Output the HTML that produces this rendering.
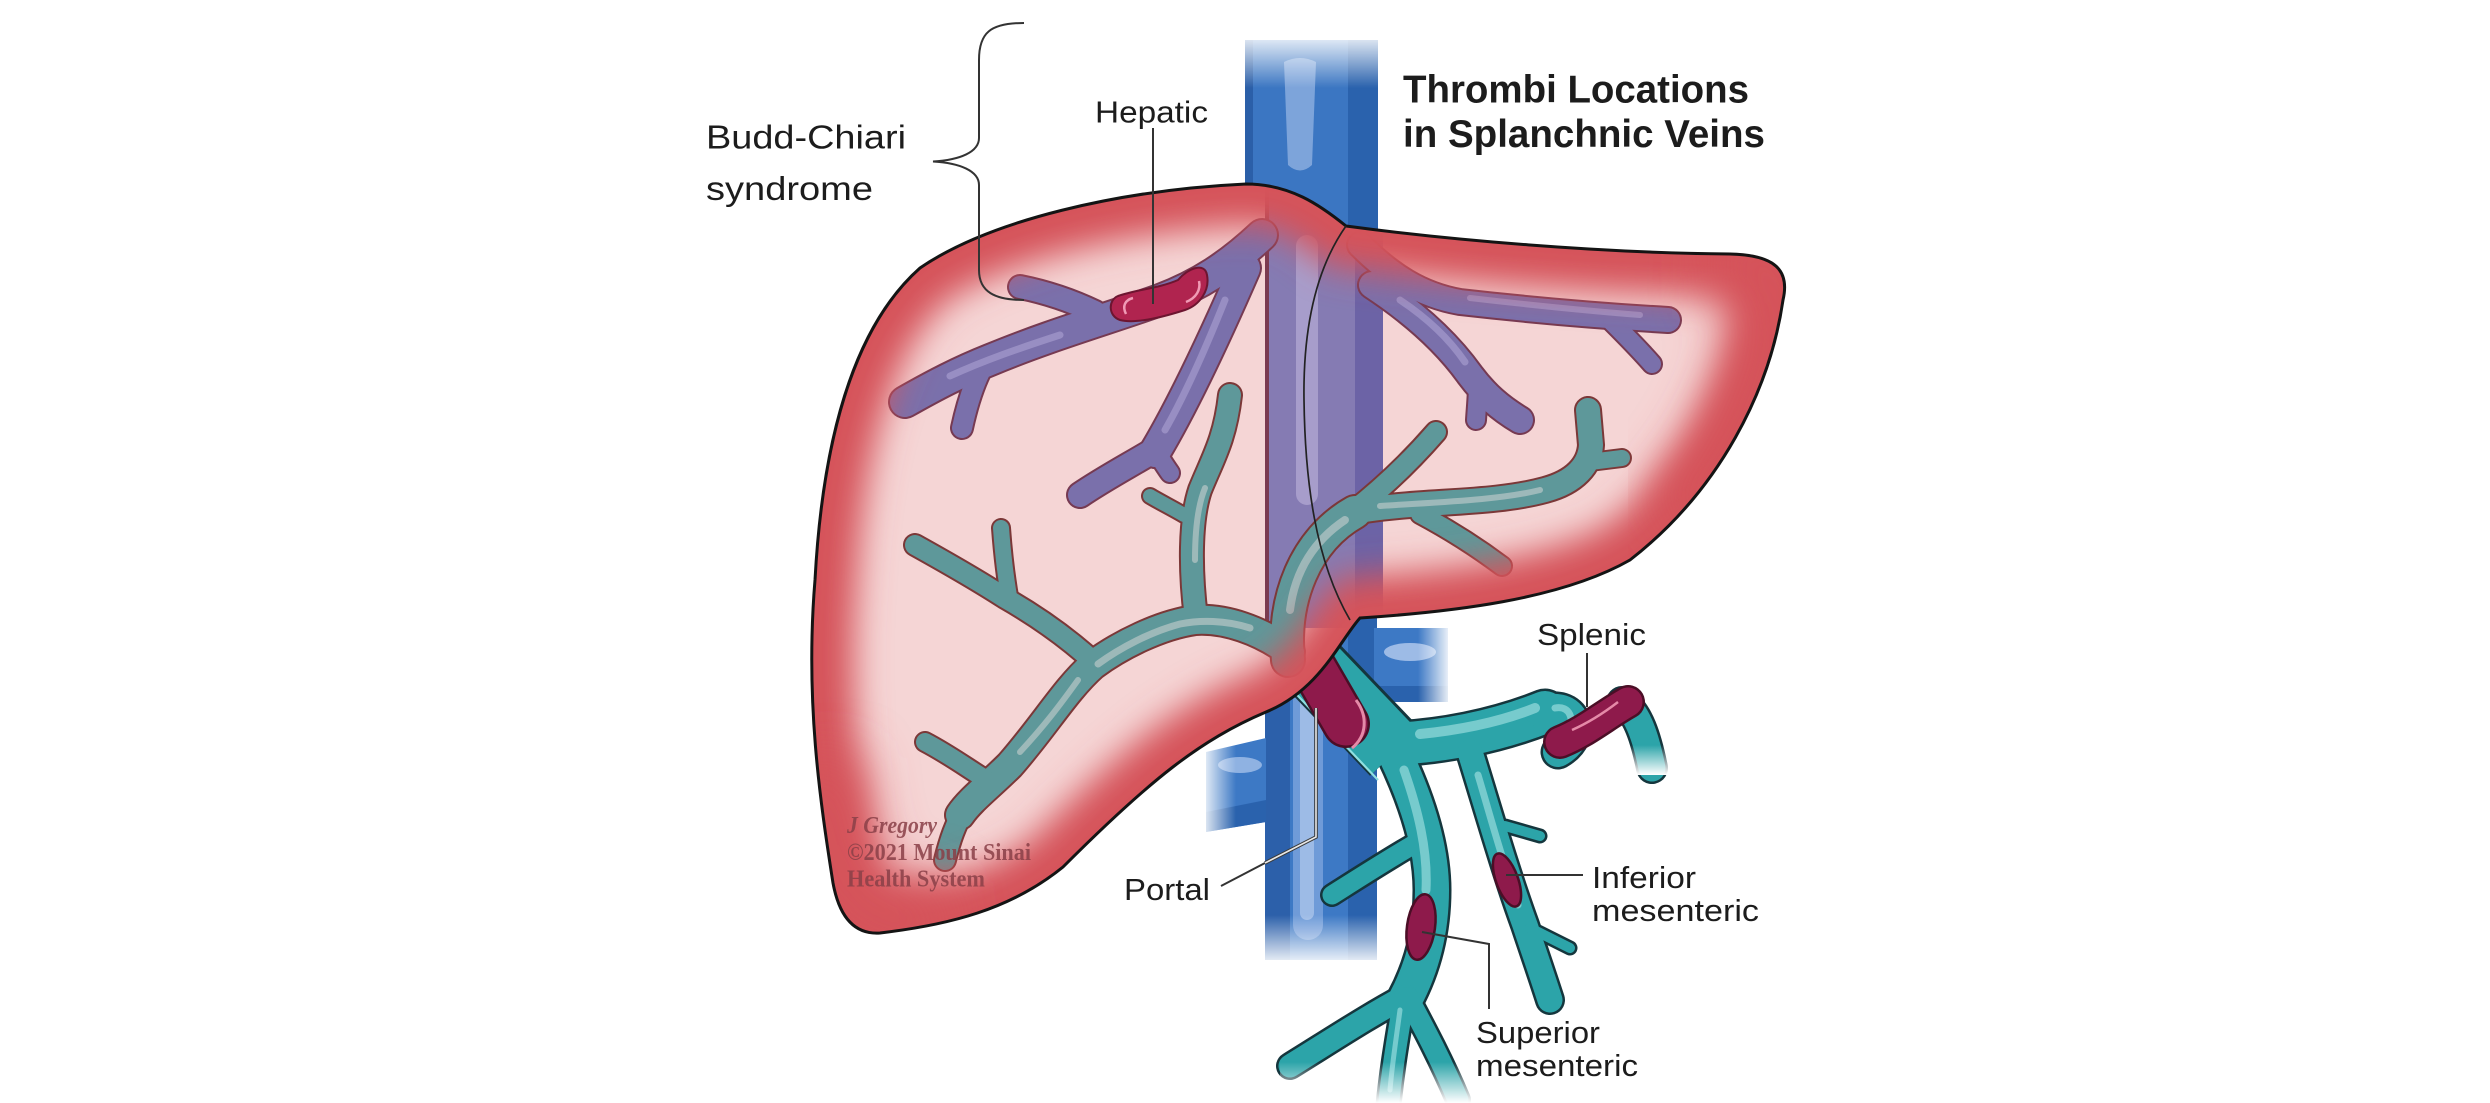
<!DOCTYPE html>
<html><head><meta charset="utf-8"><title>Thrombi Locations in Splanchnic Veins</title>
<style>
html,body{margin:0;padding:0;background:#fff}
svg{display:block}
text{font-family:"Liberation Sans",Arial,sans-serif;fill:#1c1c1c}
</style></head><body>
<svg xmlns="http://www.w3.org/2000/svg" width="2490" height="1103" viewBox="0 0 2490 1103">
<defs>
<path id="liver" d="M1246,184 C1290,184 1320,205 1346,226 C1450,240 1600,253 1730,254 C1775,255 1790,270 1783,300 C1770,390 1720,490 1630,560 C1560,600 1450,612 1360,618 C1340,640 1320,690 1266,712 C1200,740 1150,780 1063,867 C1010,910 948,925 880,933 C850,935 838,910 833,883 C820,800 805,700 815,580 C822,450 850,330 920,268 C990,220 1120,190 1246,184 Z"/>
<clipPath id="lc"><use href="#liver"/></clipPath>
<filter id="b18" x="-30%" y="-30%" width="160%" height="160%"><feGaussianBlur stdDeviation="17"/></filter>
<filter id="b26" x="-50%" y="-50%" width="200%" height="200%"><feGaussianBlur stdDeviation="26"/></filter>
<linearGradient id="fadeTop" x1="0" y1="0" x2="0" y2="1"><stop offset="0" stop-color="#fff" stop-opacity="1"/><stop offset="1" stop-color="#fff" stop-opacity="0"/></linearGradient>
<linearGradient id="fadeBot" x1="0" y1="0" x2="0" y2="1"><stop offset="0" stop-color="#fff" stop-opacity="0"/><stop offset="1" stop-color="#fff" stop-opacity="1"/></linearGradient>
<linearGradient id="fadeR" x1="0" y1="0" x2="1" y2="0"><stop offset="0" stop-color="#fff" stop-opacity="0"/><stop offset="1" stop-color="#fff" stop-opacity="1"/></linearGradient>
<linearGradient id="fadeL" x1="1" y1="0" x2="0" y2="0"><stop offset="0" stop-color="#fff" stop-opacity="0"/><stop offset="1" stop-color="#fff" stop-opacity="1"/></linearGradient>
</defs>

<rect width="2490" height="1103" fill="#fff"/>

<!-- Vena cava above liver -->
<rect x="1245" y="40" width="133" height="200" fill="#3b76c2"/>
<rect x="1245" y="40" width="8" height="200" fill="#2b5fa8"/>
<rect x="1348" y="40" width="30" height="200" fill="#2a62ad"/>
<path d="M1284,62 Q1300,54 1316,62 L1312,165 Q1300,176 1288,165 Z" fill="#9ab8e4" opacity=".7"/>
<rect x="1235" y="30" width="155" height="58" fill="url(#fadeTop)"/>

<!-- Vena cava below liver -->
<rect x="1265" y="590" width="112" height="370" fill="#3d79c5"/>
<rect x="1265" y="590" width="25" height="370" fill="#2c60aa"/>
<rect x="1293" y="600" width="30" height="340" rx="15" fill="#6f9bd8"/>
<rect x="1300" y="620" width="14" height="300" rx="7" fill="#9dbbe6"/>
<rect x="1348" y="590" width="29" height="370" fill="#2a62ad"/>
<!-- renal stubs -->
<path d="M1374,628 L1448,628 L1448,702 L1374,702 Z" fill="#3d79c5"/>
<path d="M1376,686 L1448,686 L1448,702 L1376,702 Z" fill="#2a62ad"/>
<ellipse cx="1410" cy="652" rx="26" ry="9" fill="#9dbbe6"/>
<rect x="1418" y="620" width="34" height="90" fill="url(#fadeR)"/>
<path d="M1266,738 L1206,752 L1206,832 L1266,822 Z" fill="#3d79c5"/>
<path d="M1266,800 L1206,812 L1206,832 L1266,822 Z" fill="#2a62ad"/>
<ellipse cx="1240" cy="765" rx="22" ry="8" fill="#8fb2e2"/>
<rect x="1200" y="740" width="36" height="100" fill="url(#fadeL)"/>
<rect x="1255" y="915" width="135" height="52" fill="url(#fadeBot)"/>

<!-- Extrahepatic portal system (teal) -->
<g fill="none" stroke-linecap="round" stroke="#15363d">
 <path d="M1288,640 L1395,752" stroke-width="69" stroke-linecap="butt"/>
 <path d="M1392,748 C1415,795 1432,845 1432,890 C1432,935 1420,972 1405,1000" stroke-width="39"/>
 <path d="M1406,996 C1370,1015 1332,1040 1290,1066" stroke-width="28"/>
 <path d="M1404,998 C1398,1035 1392,1068 1388,1110" stroke-width="26"/>
 <path d="M1408,998 C1425,1030 1442,1062 1458,1100" stroke-width="26"/>
 <path d="M1418,842 C1390,858 1362,876 1332,895" stroke-width="24"/>
 <path d="M1392,744 C1440,742 1495,732 1545,712" stroke-width="47"/>
 <path d="M1540,712 C1575,698 1588,735 1558,752" stroke-width="35"/>
 <path d="M1622,702 C1638,712 1646,738 1652,768" stroke-width="32"/>
 <path d="M1470,752 C1488,810 1505,870 1525,925 C1535,955 1542,975 1550,1000" stroke-width="30"/>
 <path d="M1505,826 L1540,836" stroke-width="15"/>
 <path d="M1530,928 L1570,948" stroke-width="15"/>
</g>
<g fill="none" stroke-linecap="round" stroke="#2ca4a9">
 <path d="M1288,640 L1395,752" stroke-width="63" stroke-linecap="butt"/>
 <path d="M1392,748 C1415,795 1432,845 1432,890 C1432,935 1420,972 1405,1000" stroke-width="34"/>
 <path d="M1406,996 C1370,1015 1332,1040 1290,1066" stroke-width="23"/>
 <path d="M1404,998 C1398,1035 1392,1068 1388,1110" stroke-width="21"/>
 <path d="M1408,998 C1425,1030 1442,1062 1458,1100" stroke-width="21"/>
 <path d="M1418,842 C1390,858 1362,876 1332,895" stroke-width="19"/>
 <path d="M1392,744 C1440,742 1495,732 1545,712" stroke-width="42"/>
 <path d="M1540,712 C1575,698 1588,735 1558,752" stroke-width="30"/>
 <path d="M1622,702 C1638,712 1646,738 1652,768" stroke-width="27"/>
 <path d="M1470,752 C1488,810 1505,870 1525,925 C1535,955 1542,975 1550,1000" stroke-width="25"/>
 <path d="M1505,826 L1540,836" stroke-width="10"/>
 <path d="M1530,928 L1570,948" stroke-width="10"/>
</g>
<g fill="none" stroke-linecap="round" stroke="#8ad5d7" opacity=".8">
 <path d="M1404,770 C1418,810 1428,850 1426,890" stroke-width="9"/>
 <path d="M1420,734 C1460,730 1500,722 1535,708" stroke-width="10"/>
 <path d="M1478,775 C1490,815 1502,860 1518,905" stroke-width="7"/>
 <path d="M1555,708 C1570,705 1575,720 1568,732" stroke-width="7"/>
 <path d="M1400,1010 C1396,1040 1392,1065 1390,1090" stroke-width="5"/>
</g>
<rect x="1280" y="1062" width="200" height="41" fill="url(#fadeBot)"/>
<rect x="1630" y="745" width="40" height="30" fill="url(#fadeBot)"/>
<!-- thin edge of portal trunk -->
<path d="M1262,658 L1378,780" stroke="#8fe0e0" stroke-width="2.2" fill="none"/>

<!-- Thrombi (extrahepatic) -->
<path d="M1306,655 L1346,724" stroke="#4b0e26" stroke-width="48" stroke-linecap="round" fill="none"/>
<path d="M1306,655 L1346,724" stroke="#8e1a4b" stroke-width="43" stroke-linecap="round" fill="none"/>
<path d="M1356,700 C1368,716 1367,736 1352,748" stroke="#e58aa8" stroke-width="3" fill="none"/>
<path d="M1560,742 C1585,732 1605,715 1628,702" stroke="#4b0e26" stroke-width="34" stroke-linecap="round" fill="none"/>
<path d="M1560,742 C1585,732 1605,715 1628,702" stroke="#8e1a4b" stroke-width="29" stroke-linecap="round" fill="none"/>
<path d="M1572,730 C1590,722 1605,712 1618,702" stroke="#e58aa8" stroke-width="2.5" fill="none"/>
<ellipse cx="1421" cy="927" rx="14" ry="33" transform="rotate(8 1421 927)" fill="#8e1a4b" stroke="#4b0e26" stroke-width="2.5"/>
<ellipse cx="1507" cy="880" rx="11" ry="28" transform="rotate(-20 1507 880)" fill="#8e1a4b" stroke="#4b0e26" stroke-width="2.5"/>

<!-- Liver -->
<g clip-path="url(#lc)">
 <use href="#liver" fill="#f5d5d5"/>
 <!-- intrahepatic cava -->
 <rect x="1265" y="178" width="118" height="450" fill="#857bb3"/>
 <rect x="1355" y="178" width="28" height="450" fill="#6c63a6"/>
 <rect x="1265" y="178" width="4" height="450" fill="#7a3a50"/>
 <rect x="1296" y="235" width="22" height="270" rx="11" fill="#a79dcb"/>

 <!-- hepatic veins (purple) -->
 <g fill="none" stroke-linecap="round" stroke="#763a52">
  <path d="M1262,235 C1230,265 1200,285 1160,300 C1110,318 1050,335 990,360 C960,372 935,385 905,402" stroke-width="34"/>
  <path d="M985,362 C975,380 968,400 962,428" stroke-width="24"/>
  <path d="M1095,312 C1070,300 1045,292 1020,287" stroke-width="26"/>
  <path d="M1245,268 C1218,330 1186,400 1155,452" stroke-width="34"/>
  <path d="M1158,448 C1130,465 1105,478 1080,495" stroke-width="28"/>
  <path d="M1155,450 C1160,458 1165,466 1170,473" stroke-width="22"/>
  <path d="M1360,245 C1390,275 1420,295 1460,302 C1530,310 1600,316 1668,320" stroke-width="28"/>
  <path d="M1612,322 C1625,335 1638,348 1652,364" stroke-width="22"/>
  <path d="M1372,285 C1410,310 1445,340 1470,375 C1485,395 1500,408 1520,420" stroke-width="30"/>
  <path d="M1478,385 C1478,395 1477,405 1476,420" stroke-width="22"/>
 </g>
 <g fill="none" stroke-linecap="round" stroke="#7a70ab">
  <path d="M1262,235 C1230,265 1200,285 1160,300 C1110,318 1050,335 990,360 C960,372 935,385 905,402" stroke-width="30"/>
  <path d="M985,362 C975,380 968,400 962,428" stroke-width="20"/>
  <path d="M1095,312 C1070,300 1045,292 1020,287" stroke-width="22"/>
  <path d="M1245,268 C1218,330 1186,400 1155,452" stroke-width="30"/>
  <path d="M1158,448 C1130,465 1105,478 1080,495" stroke-width="24"/>
  <path d="M1155,450 C1160,458 1165,466 1170,473" stroke-width="18"/>
  <path d="M1360,245 C1390,275 1420,295 1460,302 C1530,310 1600,316 1668,320" stroke-width="24"/>
  <path d="M1612,322 C1625,335 1638,348 1652,364" stroke-width="18"/>
  <path d="M1372,285 C1410,310 1445,340 1470,375 C1485,395 1500,408 1520,420" stroke-width="26"/>
  <path d="M1478,385 C1478,395 1477,405 1476,420" stroke-width="18"/>
 </g>
 <g fill="none" stroke-linecap="round" stroke="#a096c9" opacity=".8">
  <path d="M1060,335 C1020,348 985,360 950,376" stroke-width="7"/>
  <path d="M1225,300 C1205,350 1185,395 1165,430" stroke-width="7"/>
  <path d="M1470,298 C1530,305 1590,311 1640,315" stroke-width="6"/>
  <path d="M1400,300 C1430,320 1450,340 1465,362" stroke-width="7"/>
 </g>

 <!-- intrahepatic portal veins (teal-grey) -->
 <g fill="none" stroke-linecap="round" stroke="#7b3838">
  <path d="M1290,652 C1260,630 1225,618 1195,620 C1160,625 1120,645 1093,665 C1065,690 1045,725 1010,765 C990,785 970,800 960,815" stroke-width="32"/>
  <path d="M965,808 C955,825 950,840 945,860" stroke-width="24"/>
  <path d="M990,782 C970,770 950,755 925,742" stroke-width="22"/>
  <path d="M1095,663 C1070,640 1040,618 1005,598 C985,585 960,570 915,545" stroke-width="24"/>
  <path d="M1010,602 C1006,580 1003,555 1001,528" stroke-width="20"/>
  <path d="M1196,618 C1190,570 1190,520 1200,490 C1212,460 1225,440 1230,395" stroke-width="26"/>
  <path d="M1184,515 C1172,508 1160,502 1150,496" stroke-width="18"/>
  <path d="M1288,660 C1282,600 1305,540 1355,512" stroke-width="36"/>
  <path d="M1352,512 C1420,500 1490,505 1545,490 C1575,482 1590,465 1591,445 L1588,410" stroke-width="28"/>
  <path d="M1590,462 L1622,458" stroke-width="20"/>
  <path d="M1420,514 C1450,530 1478,548 1502,566" stroke-width="22"/>
  <path d="M1352,512 C1380,490 1410,462 1436,432" stroke-width="24"/>
 </g>
 <g fill="none" stroke-linecap="round" stroke="#5e989a">
  <path d="M1290,652 C1260,630 1225,618 1195,620 C1160,625 1120,645 1093,665 C1065,690 1045,725 1010,765 C990,785 970,800 960,815" stroke-width="28"/>
  <path d="M965,808 C955,825 950,840 945,860" stroke-width="20"/>
  <path d="M990,782 C970,770 950,755 925,742" stroke-width="18"/>
  <path d="M1095,663 C1070,640 1040,618 1005,598 C985,585 960,570 915,545" stroke-width="20"/>
  <path d="M1010,602 C1006,580 1003,555 1001,528" stroke-width="16"/>
  <path d="M1196,618 C1190,570 1190,520 1200,490 C1212,460 1225,440 1230,395" stroke-width="22"/>
  <path d="M1184,515 C1172,508 1160,502 1150,496" stroke-width="14"/>
  <path d="M1288,660 C1282,600 1305,540 1355,512" stroke-width="32"/>
  <path d="M1352,512 C1420,500 1490,505 1545,490 C1575,482 1590,465 1591,445 L1588,410" stroke-width="24"/>
  <path d="M1590,462 L1622,458" stroke-width="16"/>
  <path d="M1420,514 C1450,530 1478,548 1502,566" stroke-width="18"/>
  <path d="M1352,512 C1380,490 1410,462 1436,432" stroke-width="20"/>
 </g>
 <g fill="none" stroke-linecap="round" stroke="#b3c4c4" opacity=".75">
  <path d="M1250,628 C1225,620 1200,620 1180,624 C1150,632 1120,648 1098,664" stroke-width="7"/>
  <path d="M1078,680 C1060,705 1045,725 1020,752" stroke-width="6"/>
  <path d="M1290,610 C1295,570 1315,540 1345,520" stroke-width="8"/>
  <path d="M1380,506 C1440,502 1500,500 1540,490" stroke-width="6"/>
  <path d="M1195,560 C1195,530 1198,505 1205,488" stroke-width="6"/>
 </g>

 <!-- red peripheral band -->
 <use href="#liver" fill="none" stroke="#d5535a" stroke-width="84" filter="url(#b18)"/>
 <path d="M1710,256 C1790,258 1792,300 1776,360 C1760,420 1730,480 1680,530" fill="none" stroke="#d5535a" stroke-width="90" filter="url(#b26)"/>
 <path d="M818,760 C826,870 850,935 950,920" fill="none" stroke="#d5535a" stroke-width="80" filter="url(#b26)"/>
</g>
<use href="#liver" fill="none" stroke="#141414" stroke-width="3"/>
<path d="M1346,226 C1315,270 1303,330 1304,400 C1305,480 1315,560 1350,620" fill="none" stroke="#222" stroke-width="1.7"/>

<!-- hepatic vein thrombus -->
<path d="M1118,296 C1135,290 1160,288 1178,280 C1188,268 1205,262 1207,275 C1210,290 1200,305 1185,310 C1160,318 1135,324 1120,320 C1108,316 1108,300 1118,296 Z" fill="#b0244f" stroke="#6d1530" stroke-width="2"/>
<path d="M1126,314 C1122,306 1125,300 1133,298" fill="none" stroke="#f09ab5" stroke-width="2.5"/>
<path d="M1186,302 C1196,298 1201,290 1199,281" fill="none" stroke="#f09ab5" stroke-width="2.5"/>

<!-- Brace -->
<path d="M1024,23 C990,23 979,33 979,60 L979,138 C979,152 960,160 933,161.5 C960,163 979,171 979,185 L979,270 C979,292 995,300 1024,300" fill="none" stroke="#333" stroke-width="2"/>

<!-- Leader lines -->
<g fill="none" stroke="#333" stroke-width="2">
 <path d="M1153,128 L1153,304"/>
 <path d="M1587,653 L1587,707"/>
 <path d="M1506,875 L1583,875"/>
 <path d="M1422,932 L1489,944 L1489,1009"/>
 <path d="M1265,863 L1221,886"/>
</g>
<path d="M1316,708 L1316,837 L1265,863" fill="none" stroke="#3a3a3a" stroke-width="3.6"/>
<path d="M1316,708 L1316,837 L1265,863" fill="none" stroke="#e8e8e8" stroke-width="1.6"/>

<!-- Labels -->
<text x="706" y="148.5" font-size="33" textLength="200" lengthAdjust="spacingAndGlyphs">Budd-Chiari</text>
<text x="706" y="200" font-size="33" textLength="167" lengthAdjust="spacingAndGlyphs">syndrome</text>
<text x="1095" y="122.5" font-size="31" textLength="113" lengthAdjust="spacingAndGlyphs">Hepatic</text>
<text x="1403" y="102.6" font-size="38.5" font-weight="bold" textLength="346" lengthAdjust="spacingAndGlyphs">Thrombi Locations</text>
<text x="1403" y="147" font-size="38.5" font-weight="bold" textLength="362" lengthAdjust="spacingAndGlyphs">in Splanchnic Veins</text>
<text x="1537" y="645" font-size="31" textLength="109" lengthAdjust="spacingAndGlyphs">Splenic</text>
<text x="1592" y="888" font-size="31" textLength="104" lengthAdjust="spacingAndGlyphs">Inferior</text>
<text x="1592" y="921" font-size="31" textLength="167" lengthAdjust="spacingAndGlyphs">mesenteric</text>
<text x="1124" y="900" font-size="31" textLength="86" lengthAdjust="spacingAndGlyphs">Portal</text>
<text x="1476" y="1043" font-size="31" textLength="124" lengthAdjust="spacingAndGlyphs">Superior</text>
<text x="1476" y="1076" font-size="31" textLength="162" lengthAdjust="spacingAndGlyphs">mesenteric</text>

<g opacity=".85">
 <text x="847" y="833" font-size="24" font-style="italic" font-weight="bold" textLength="90" lengthAdjust="spacingAndGlyphs" style="font-family:'Liberation Serif',serif;fill:#8a4048">J Gregory</text>
 <text x="847" y="860" font-size="24" font-weight="bold" textLength="184" lengthAdjust="spacingAndGlyphs" style="font-family:'Liberation Serif',serif;fill:#8a4048">©2021 Mount Sinai</text>
 <text x="847" y="886.5" font-size="24" font-weight="bold" textLength="138" lengthAdjust="spacingAndGlyphs" style="font-family:'Liberation Serif',serif;fill:#8a4048">Health System</text>
</g>
</svg>
</body></html>
